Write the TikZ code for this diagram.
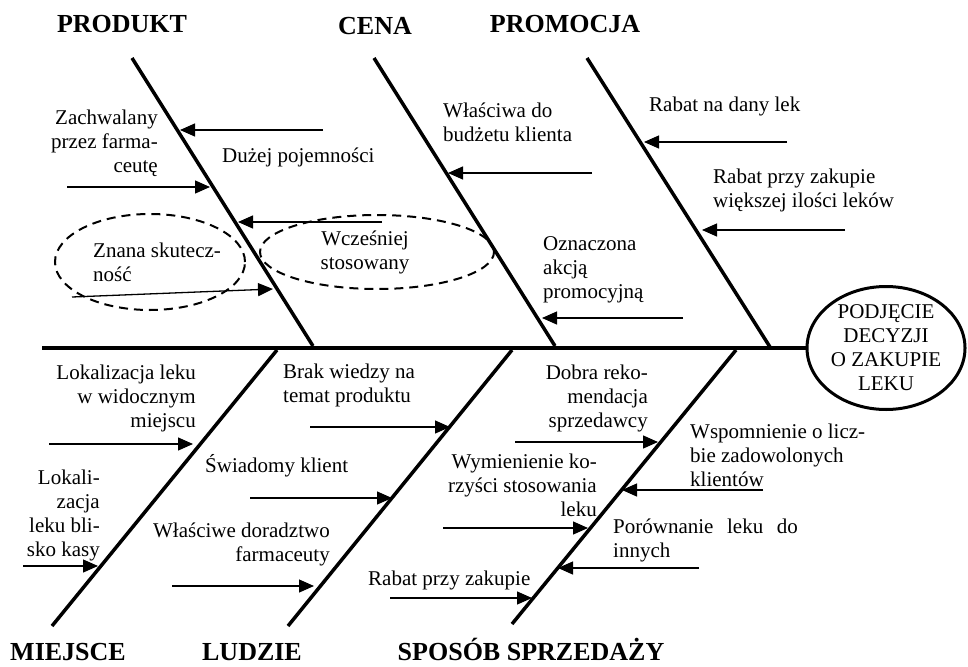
\documentclass[tikz,border=0pt]{standalone}
\usepackage{fontspec}
\setmainfont{Liberation Serif}
\usetikzlibrary{arrows.meta,shapes.geometric}
\begin{document}
\begin{tikzpicture}[x=1pt,y=-1pt,
  bone/.style={line width=3.5pt},
  spine/.style={line width=3.5pt},
  cause/.style={line width=1.3pt, -{Triangle[length=15pt,width=13pt]}},
  lbl/.style={font=\fontsize{21}{24}\selectfont, inner sep=0pt},
  ttl/.style={font=\fontsize{26}{30}\selectfont\bfseries, inner sep=0pt, anchor=base},
  grp/.style={draw, ellipse, dash pattern=on 9pt off 6pt, line width=2pt, inner sep=0pt},
]
\useasboundingbox (0,0) rectangle (968,666);

% titles
\node[ttl] (tProd) at (122,33) {PRODUKT};
\node[ttl] (tCena) at (375,35) {CENA};
\node[ttl] (tProm) at (565,33) {PROMOCJA};
\node[ttl] (tMiej) at (68,660) {MIEJSCE};
\node[ttl] (tLud) at (252,660) {LUDZIE};
\node[ttl] (tSpos) at (531,660) {SPOSÓB SPRZEDAŻY};

% effect
\node[lbl, draw, ellipse, line width=3pt, minimum width=158pt, minimum height=123pt, align=center] (goal) at (886,348) {PODJĘCIE\\DECYZJI\\O ZAKUPIE\\LEKU};

% spine
\coordinate (spL) at (42,348);
\draw[spine] (spL) -- (goal.west);

% bones
\coordinate (b1t) at (132,58);  \coordinate (b1b) at (313,346);
\coordinate (b2t) at (374,58);  \coordinate (b2b) at (555,346);
\coordinate (b3t) at (587,58);  \coordinate (b3b) at (770,347);
\coordinate (b4b) at (52,626);  \coordinate (b4t) at (277,350);
\coordinate (b5b) at (288,626); \coordinate (b5t) at (512,350);
\coordinate (b6b) at (512,624); \coordinate (b6t) at (736,350);
\draw[bone] (b1t) -- (b1b);
\draw[bone] (b2t) -- (b2b);
\draw[bone] (b3t) -- (b3b);
\draw[bone] (b4b) -- (b4t);
\draw[bone] (b5b) -- (b5t);
\draw[bone] (b6b) -- (b6t);

% dashed groups
\node[grp, minimum width=190pt, minimum height=96pt] (e1) at (150,262) {};
\node[grp, minimum width=234pt, minimum height=74pt] (e2) at (377,252) {};

% labels
\node[lbl, anchor=east, align=right] (zach) at (158,143) {Zachwalany\\przez farma-\\ceutę};
\node[lbl, anchor=west] (duz) at (222,157) {Dużej pojemności};
\node[lbl, anchor=west, align=left] (znana) at (93,262) {Znana skutecz-\\ność};
\node[lbl, align=center] (wcz) at (365,252) {Wcześniej\\stosowany};
\node[lbl, anchor=west, align=left] (wlasc) at (443,122) {Właściwa do\\budżetu klienta};
\node[lbl, anchor=west, align=left] (ozn) at (543,270) {Oznaczona\\akcją\\promocyjną};
\node[lbl, anchor=west] (rab1) at (649,106) {Rabat na dany lek};
\node[lbl, anchor=west, align=left] (rab2) at (713,190) {Rabat przy zakupie\\większej ilości leków};
\node[lbl, anchor=east, align=right] (lok1) at (196,398) {Lokalizacja leku\\w widocznym\\miejscu};
\node[lbl, anchor=east, align=right] (lok2) at (100,515) {Lokali-\\zacja\\leku bli-\\sko kasy};
\node[lbl, anchor=west, align=left] (brak) at (283,385) {Brak wiedzy na\\temat produktu};
\node[lbl, anchor=west] (swiad) at (205,466) {Świadomy klient};
\node[lbl, anchor=east, align=right] (dorad) at (330,544) {Właściwe doradztwo\\farmaceuty};
\node[lbl, anchor=east, align=right] (dobra) at (648,398) {Dobra reko-\\mendacja\\sprzedawcy};
\node[lbl, anchor=west, align=left] (wspom) at (690,455) {Wspomnienie o licz-\\bie zadowolonych\\klientów};
\node[lbl, anchor=east, align=right] (wymien) at (597,485) {Wymienienie ko-\\rzyści stosowania\\leku};
\node[lbl, anchor=west, align=left] (porown) at (613,540) {Porównanie\hspace{0.4em} leku\hspace{0.4em} do\\innych};
\node[lbl, anchor=west] (rab3) at (368,580) {Rabat przy zakupie};

% cause arrows: tails and tips
\coordinate (a1s) at (323,130); \coordinate (a1e) at (180,130);
\coordinate (a2s) at (67,187);  \coordinate (a2e) at (210,187);
\coordinate (a3s) at (382,222); \coordinate (a3e) at (238,222);
\coordinate (a4s) at (72,297);  \coordinate (a4e) at (273,289);
\coordinate (a5s) at (592,173); \coordinate (a5e) at (448,173);
\coordinate (a6s) at (683,318); \coordinate (a6e) at (542,318);
\coordinate (a7s) at (787,142); \coordinate (a7e) at (644,142);
\coordinate (a8s) at (845,230); \coordinate (a8e) at (702,230);
\coordinate (a9s) at (49,444);  \coordinate (a9e) at (193,444);
\coordinate (a10s) at (23,566); \coordinate (a10e) at (98,566);
\coordinate (a11s) at (310,427); \coordinate (a11e) at (450,427);
\coordinate (a12s) at (250,498); \coordinate (a12e) at (392,498);
\coordinate (a13s) at (172,586); \coordinate (a13e) at (314,586);
\coordinate (a14s) at (515,442); \coordinate (a14e) at (658,442);
\coordinate (a15s) at (763,490); \coordinate (a15e) at (622,490);
\coordinate (a16s) at (443,528); \coordinate (a16e) at (588,528);
\coordinate (a17s) at (699,568); \coordinate (a17e) at (558,568);
\coordinate (a18s) at (390,598); \coordinate (a18e) at (532,598);
\foreach \i in {1,...,18} { \draw[cause] (a\i s) -- (a\i e); }
\end{tikzpicture}
\end{document}
